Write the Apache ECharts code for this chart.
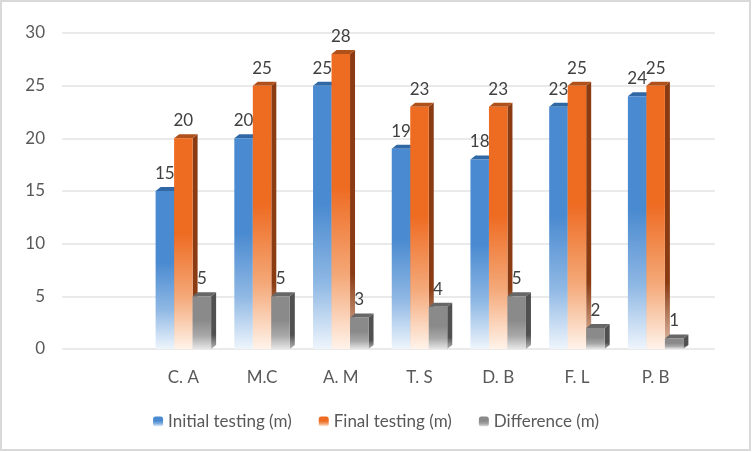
<!DOCTYPE html>
<html><head><meta charset="utf-8">
<script src="https://cdn.jsdelivr.net/npm/echarts@6/dist/echarts.min.js"></script>
<style>html,body{margin:0;padding:0;background:#fff}#c{width:752px;height:452px}</style>
</head><body><div id="c"></div>
<script>
var categories = ['C. A', 'M.C', 'A. M', 'T. S', 'D. B', 'F. L', 'P. B'];
var initialTesting = [15, 20, 25, 19, 18, 23, 24];
var finalTesting = [20, 25, 28, 23, 23, 25, 25];
var difference = [5, 5, 3, 4, 5, 2, 1];
var seriesNames = ['Initial testing (m)', 'Final testing (m)', 'Difference (m)'];
var yTicks = [0, 5, 10, 15, 20, 25, 30];

var FONT = 'Lato';
var TXT = '#595959';
var BW = 18.5, DX = 5, DY = 4;
var palettes = [
  {front: '#4a8ad0', mid: '#8fb8e4', bottom: '#eef5fc', side: '#2d5f96', sideB: '#c9d9ea', top: '#3068a6'},
  {front: '#ee6b22', mid: '#f4a878', bottom: '#fff3ea', side: '#8a3b12', sideB: '#e3c2ae', top: '#b0501b'},
  {front: '#8a8a8a', mid: '#a8a8a8', bottom: '#e6e6e6', side: '#505050', sideB: '#b5b5b5', top: '#676767'}
];
function grad(c1, c2, c3) {
  return new echarts.graphic.LinearGradient(0, 0, 0, 1, [
    {offset: 0, color: c1}, {offset: 0.45, color: c1},
    {offset: 0.75, color: c2}, {offset: 1, color: c3}]);
}
var allData = [initialTesting, finalTesting, difference];
var series = [];
allData.forEach(function (vals, k) {
  var p = palettes[k];
  series.push({
    name: 'depth' + k, type: 'custom', xAxisIndex: 1, yAxisIndex: 1, z: 2 * k + 1,
    silent: true,
    data: vals.map(function (v, i) { return [i, v]; }),
    encode: {x: 0, y: 1},
    renderItem: function (params, api) {
      var top = api.coord([api.value(0), api.value(1)]);
      var bot = api.coord([api.value(0), 0]);
      var cx = top[0] + (k - 1) * BW;
      var l = cx - BW / 2, r = cx + BW / 2, t = top[1], b = bot[1];
      return {type: 'group', children: [
        {type: 'polygon', shape: {points: [[r, t], [r + DX, t - DY], [r + DX, b - DY], [r, b]]},
         style: {fill: grad(p.side, p.side, p.sideB)}},
        {type: 'polygon', shape: {points: [[l, t], [l + DX, t - DY], [r + DX, t - DY], [r, t]]},
         style: {fill: p.top}}
      ]};
    }
  });
  series.push({
    name: seriesNames[k], type: 'bar', xAxisIndex: 1, yAxisIndex: 1, z: 2 * k + 2,
    barWidth: BW, barGap: '0%',
    data: vals,
    itemStyle: {color: grad(p.front, p.mid, p.bottom)},
    label: {show: true, position: 'top', distance: 9, color: '#404040', fontSize: 17, fontFamily: FONT}
  });
});

var chart = echarts.init(document.getElementById('c'));
chart.setOption({
  animation: false,
  backgroundColor: '#fff',
  graphic: [{type: 'rect', shape: {x: 1, y: 1, width: 749, height: 449},
    style: {fill: 'none', stroke: '#d9d9d9', lineWidth: 2}, silent: true}],
  legend: {
    data: seriesNames, bottom: 17, left: 'center', itemWidth: 10, itemHeight: 10, itemGap: 27,
    textStyle: {color: TXT, fontSize: 17, fontFamily: FONT}
  },
  grid: [
    {left: 62, right: 37, top: 33, bottom: 103},
    {left: 144, right: 57, top: 33, bottom: 103}
  ],
  xAxis: [
    {type: 'value', gridIndex: 0, show: false, min: 0, max: 1},
    {type: 'category', gridIndex: 1, data: categories,
     axisLine: {show: false}, axisTick: {show: false},
     axisLabel: {color: TXT, fontSize: 17, fontFamily: FONT, margin: 20}}
  ],
  yAxis: [
    {type: 'value', gridIndex: 0, min: yTicks[0], max: yTicks[yTicks.length - 1], interval: 5,
     axisLine: {show: false}, axisTick: {show: false},
     axisLabel: {color: TXT, fontSize: 17, fontFamily: FONT, margin: 17},
     splitLine: {lineStyle: {color: '#e3e3e3', width: 1.5}}},
    {type: 'value', gridIndex: 1, min: 0, max: 30, interval: 5, show: false, splitLine: {show: false}}
  ],
  series: series
});
</script></body></html>
